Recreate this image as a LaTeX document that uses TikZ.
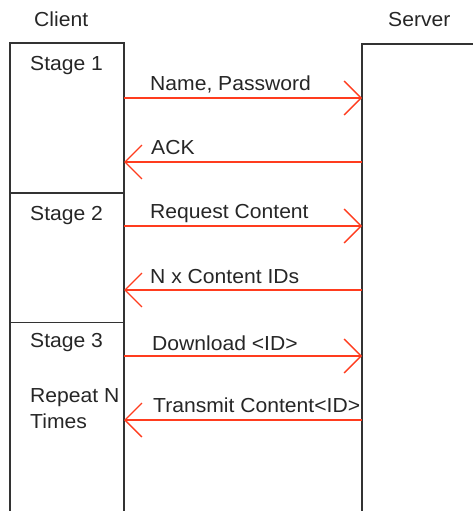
\documentclass[tikz,border=0pt]{standalone}
\usepackage{fontspec}
\setmainfont[FakeStretch=1.04]{Liberation Sans}
\usetikzlibrary{arrows.meta}
\begin{document}
\begin{tikzpicture}[x=1bp,y=-1bp,
  lbl/.style={anchor=base west,inner sep=0pt,font=\fontsize{20.3bp}{24bp}\selectfont,text=black!85},
  boxline/.style={draw=black!80,line width=1.4bp},
  msg/.style={draw={rgb,255:red,255;green,60;blue,30},line width=1.3bp,
    -{Straight Barb[length=17bp,width=34bp,line width=1.3bp]}}]
\useasboundingbox (0,0) rectangle (473,511);
% columns
\draw[boxline] (10,511) -- (10,43) -- (124,43) -- (124,511);
\draw[boxline] (10,193) -- (124,193);
\draw[boxline] (10,322.5) -- (124,322.5);
\draw[boxline] (473,44) -- (362,44) -- (362,511);
% headings
\node[lbl] (client) at (34,26.5) {Client};
\node[lbl] (server) at (388,26.5) {Server};
\node[lbl] (st1) at (30,71) {Stage 1};
\node[lbl] (st2) at (30,220) {Stage 2};
\node[lbl] (st3) at (30,347) {Stage 3};
\node[lbl] (rep) at (30,402) {Repeat N};
\node[lbl] (tim) at (30,428) {Times};
% endpoints
\coordinate (c1) at (124,98);  \coordinate (s1) at (362,98);
\coordinate (c2) at (124,162); \coordinate (s2) at (362,162);
\coordinate (c3) at (124,226); \coordinate (s3) at (362,226);
\coordinate (c4) at (124,290); \coordinate (s4) at (362,290);
\coordinate (c5) at (124,356); \coordinate (s5) at (362,356);
\coordinate (c6) at (124,420); \coordinate (s6) at (362,420);
\draw[msg] (c1) -- (s1);
\draw[msg] (s2) -- (c2);
\draw[msg] (c3) -- (s3);
\draw[msg] (s4) -- (c4);
\draw[msg] (c5) -- (s5);
\draw[msg] (s6) -- (c6);
% labels
\node[lbl] (m1) at (150,91) {Name, Password};
\node[lbl] (m2) at (151,155) {ACK};
\node[lbl] (m3) at (150,218) {Request Content};
\node[lbl] (m4) at (150,283) {N x Content IDs};
\node[lbl] (m5) at (152,350) {Download <ID>};
\node[lbl] (m6) at (153,412) {Transmit Content<ID>};
\end{tikzpicture}
\end{document}
